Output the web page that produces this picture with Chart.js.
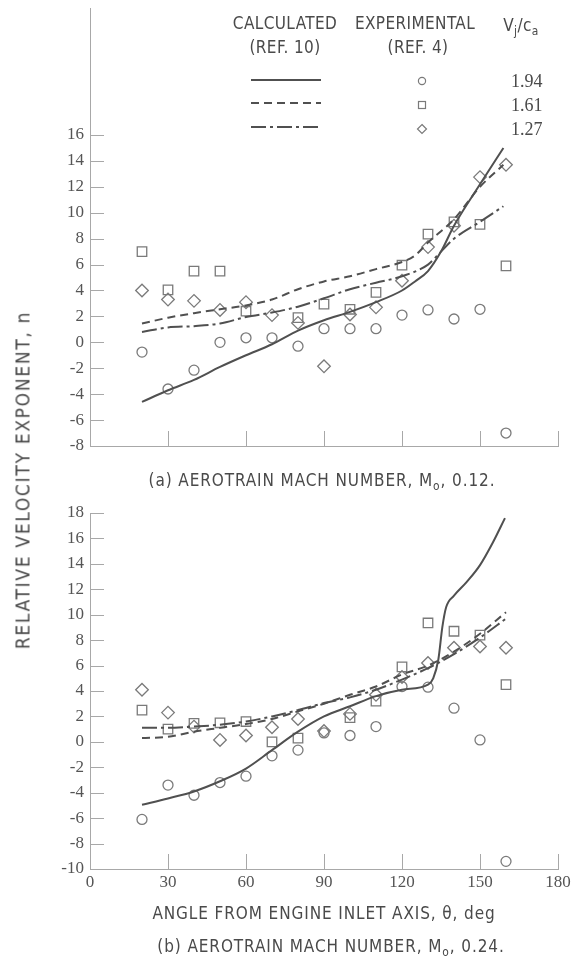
<!DOCTYPE html>
<html>
<head>
<meta charset="utf-8">
<script src="https://cdn.jsdelivr.net/npm/chart.js@4.4.1/dist/chart.umd.min.js"></script>
<style>
  html, body { margin: 0; padding: 0; background: #fff; }
  #page { position: relative; width: 574px; height: 970px; overflow: hidden; }
  #page canvas { position: absolute; left: 0; }
  .t { position: absolute; white-space: nowrap; color: #4a4a4a;
       font-family: "Liberation Sans Narrow", "DejaVu Sans Condensed", "Liberation Sans", sans-serif;
       font-size: 17px; line-height: 1; letter-spacing: 0.4px; transform: translate(-50%, -50%); }
  .num { font-family: "Liberation Serif", serif; font-size: 18px; letter-spacing: 0; transform: translate(0, -50%); }
  .cap { letter-spacing: 0.9px; }
  .ytitle { font-size: 19px; letter-spacing: 1.7px; transform: translate(-50%, -50%) rotate(-90deg); }
  sub { font-size: 70%; vertical-align: -0.35em; line-height: 0; }
</style>
</head>
<body>
<div id="page">
  <canvas id="chartTop" width="574" height="460" style="top:0"></canvas>
  <canvas id="chartBottom" width="574" height="480" style="top:490px"></canvas>

  <div class="t" style="left:285px;top:23px">CALCULATED</div>
  <div class="t" style="left:285px;top:47px">(REF. 10)</div>
  <div class="t" style="left:415px;top:23px">EXPERIMENTAL</div>
  <div class="t" style="left:418px;top:47px">(REF. 4)</div>
  <div class="t" style="left:521px;top:25px">V<sub>j</sub>/c<sub>a</sub></div>
  <div class="t num" style="left:511px;top:81px">1.94</div>
  <div class="t num" style="left:511px;top:105px">1.61</div>
  <div class="t num" style="left:511px;top:129px">1.27</div>

  <div class="t cap" style="left:322px;top:480px">(a) AEROTRAIN MACH NUMBER, M<sub>o</sub>, 0.12.</div>
  <div class="t cap" style="left:324px;top:913px">ANGLE FROM ENGINE INLET AXIS, &theta;, deg</div>
  <div class="t cap" style="left:331px;top:946px">(b) AEROTRAIN MACH NUMBER, M<sub>o</sub>, 0.24.</div>
  <div class="t ytitle" style="left:23px;top:480px">RELATIVE VELOCITY EXPONENT, n</div>
</div>

<script>
// angles of the measured points, deg
var expAngles = [20, 30, 40, 50, 60, 70, 80, 90, 100, 110, 120, 130, 140, 150, 160];

// (a) Mo = 0.12, experimental (ref. 4)
var aExp194 = [-0.75, -3.6, -2.15, 0.0, 0.35, 0.35, -0.3, 1.05, 1.05, 1.05, 2.1, 2.5, 1.8, 2.55, -7.0];
var aExp161 = [7.0, 4.05, 5.5, 5.5, 2.4, null, 1.9, 2.95, 2.55, 3.85, 5.95, 8.35, 9.3, 9.1, 5.9];
var aExp127 = [4.0, 3.3, 3.2, 2.5, 3.1, 2.1, 1.5, -1.85, 2.15, 2.7, 4.75, 7.35, 9.0, 12.75, 13.7];

// (a) calculated (ref. 10)
var aCalc194X = [20, 30, 40, 50, 60, 70, 80, 90, 100, 110, 120, 125, 130, 135, 140, 150, 159];
var aCalc194 = [-4.6, -3.7, -2.9, -1.9, -1.0, -0.15, 0.9, 1.7, 2.35, 3.1, 4.0, 4.7, 5.5, 7.0, 9.0, 12.2, 15.0];
var aCalc161X = [20, 30, 40, 50, 60, 70, 80, 90, 100, 110, 120, 125, 130, 140, 150, 159];
var aCalc161 = [1.45, 1.9, 2.25, 2.55, 2.85, 3.3, 4.1, 4.7, 5.1, 5.65, 6.2, 6.7, 7.7, 9.5, 12.0, 13.7];
var aCalc127X = [20, 30, 40, 50, 60, 70, 80, 90, 100, 110, 120, 130, 135, 140, 150, 159];
var aCalc127 = [0.8, 1.15, 1.25, 1.45, 1.95, 2.3, 2.75, 3.4, 4.1, 4.6, 5.1, 6.0, 7.0, 8.0, 9.3, 10.5];

// (b) Mo = 0.24, experimental (ref. 4)
var bExp194 = [-6.1, -3.4, -4.2, -3.2, -2.7, -1.1, -0.65, 0.7, 0.5, 1.2, 4.35, 4.3, 2.65, 0.15, -9.4];
var bExp161 = [2.5, 1.0, 1.45, 1.5, 1.6, 0.0, 0.3, null, 1.9, 3.2, 5.9, 9.35, 8.7, 8.4, 4.5];
var bExp127 = [4.1, 2.3, 1.2, 0.15, 0.5, 1.15, 1.8, 0.85, 2.2, 3.7, 5.1, 6.2, 7.4, 7.5, 7.4];

// (b) calculated (ref. 10)
var bCalc194X = [20, 30, 40, 50, 60, 70, 80, 90, 100, 110, 120, 130, 132, 134, 135.5, 137, 140, 145, 150, 155, 159.6];
var bCalc194 = [-4.95, -4.45, -3.9, -3.1, -2.1, -0.65, 0.8, 2.0, 2.8, 3.6, 4.1, 4.5, 5.0, 6.5, 9.0, 10.6, 11.5, 12.6, 13.9, 15.7, 17.6];
var bCalc161X = [20, 30, 40, 50, 60, 70, 80, 90, 100, 110, 120, 130, 140, 150, 160];
var bCalc161 = [0.3, 0.4, 0.8, 1.1, 1.4, 1.8, 2.4, 3.0, 3.7, 4.35, 5.3, 6.0, 7.1, 8.5, 10.2];
var bCalc127X = [20, 30, 40, 50, 60, 70, 80, 90, 100, 110, 120, 130, 140, 150, 160];
var bCalc127 = [1.1, 1.1, 1.2, 1.35, 1.6, 2.0, 2.5, 3.05, 3.5, 4.1, 4.9, 5.8, 6.9, 8.2, 9.7];

// axis ticks
var xTicks = [0, 30, 60, 90, 120, 150, 180];
var aYTicks = [-8, -6, -4, -2, 0, 2, 4, 6, 8, 10, 12, 14, 16];
var bYTicks = [-10, -8, -6, -4, -2, 0, 2, 4, 6, 8, 10, 12, 14, 16, 18];

var lineColor = '#505050';
var markColor = '#7a7a7a';
var axisColor = '#a8a8a8';

function pts(xs, ys) {
    return xs.map(function (x, i) { return { x: x, y: ys[i] }; })
             .filter(function (p) { return p.y !== null; });
}

function curve(xs, ys, dash) {
    return {
        data: pts(xs, ys),
        showLine: true,
        pointRadius: 0,
        borderColor: lineColor,
        borderWidth: 2,
        borderDash: dash,
        cubicInterpolationMode: 'monotone',
        fill: false
    };
}

function marks(ys, style, r) {
    return {
        data: pts(expAngles, ys),
        showLine: false,
        pointStyle: style,
        pointRadius: r,
        pointBorderColor: markColor,
        pointBackgroundColor: 'rgba(0,0,0,0)',
        pointBorderWidth: 1.3
    };
}

// tick marks drawn inside the plot, like the original
var innerTicks = {
    id: 'innerTicks',
    afterDraw: function (chart, args, opts) {
        var ctx = chart.ctx, a = chart.chartArea;
        var xs = chart.scales.x, ys = chart.scales.y;
        ctx.save();
        ctx.strokeStyle = axisColor;
        ctx.lineWidth = 1;
        ctx.beginPath();
        opts.yTicks.forEach(function (v) {
            if (v === opts.yTicks[0]) return;
            var py = Math.round(ys.getPixelForValue(v)) + 0.5;
            ctx.moveTo(a.left, py); ctx.lineTo(a.left + 14, py);
        });
        xTicks.forEach(function (v) {
            if (v === 0) return;
            var px = Math.round(xs.getPixelForValue(v)) + 0.5;
            ctx.moveTo(px, a.bottom); ctx.lineTo(px, a.bottom - 15);
        });
        ctx.stroke();
        ctx.restore();
    }
};

// line / symbol key of the upper panel
var keyPlugin = {
    id: 'keyPlugin',
    afterDraw: function (chart) {
        var ctx = chart.ctx;
        var ds = chart.data.datasets;
        var lineY = [80, 103, 127];
        var markY = [81, 105, 129];
        ctx.save();
        for (var i = 0; i < 3; i++) {
            ctx.strokeStyle = lineColor;
            ctx.lineWidth = 2;
            ctx.setLineDash(ds[i].borderDash);
            ctx.beginPath();
            ctx.moveTo(251, lineY[i]);
            ctx.lineTo(321, lineY[i]);
            ctx.stroke();
        }
        ctx.setLineDash([]);
        ctx.strokeStyle = markColor;
        ctx.lineWidth = 1.2;
        var x = 422;
        ctx.beginPath(); ctx.arc(x, markY[0], 3.6, 0, Math.PI * 2); ctx.stroke();
        ctx.strokeRect(x - 3.5, markY[1] - 3.5, 7, 7);
        ctx.beginPath();
        ctx.moveTo(x, markY[2] - 4.5); ctx.lineTo(x + 4.5, markY[2]);
        ctx.lineTo(x, markY[2] + 4.5); ctx.lineTo(x - 4.5, markY[2]);
        ctx.closePath(); ctx.stroke();
        ctx.restore();
    }
};

Chart.defaults.font.family = '"Liberation Serif", serif';
Chart.defaults.font.size = 17;
Chart.defaults.color = '#555';

function panelOptions(yMin, yMax, yLabelMax, showX, padding, yTicks) {
    return {
        responsive: false,
        animation: false,
        layout: { padding: padding },
        plugins: {
            legend: { display: false },
            tooltip: { enabled: false },
            innerTicks: { yTicks: yTicks }
        },
        scales: {
            x: {
                type: 'linear',
                min: 0, max: 180,
                grid: { display: false, drawTicks: false },
                border: { display: true, color: axisColor, width: 1 },
                ticks: {
                    display: showX,
                    stepSize: 30,
                    padding: 3,
                    color: '#555'
                },
                afterFit: function (s) { s.height = showX ? 30 : 0; }
            },
            y: {
                type: 'linear',
                min: yMin, max: yMax,
                grid: { display: false, drawTicks: false },
                border: { display: true, color: axisColor, width: 1 },
                ticks: {
                    stepSize: 2,
                    padding: 6,
                    color: '#555',
                    callback: function (v) { return (v <= yLabelMax && v % 2 === 0) ? String(v) : ''; }
                },
                afterFit: function (s) { s.width = 90; s.paddingTop = 0; s.paddingBottom = 0; }
            }
        }
    };
}

document.addEventListener('DOMContentLoaded', function () {
    var ctxTop = document.getElementById('chartTop').getContext('2d');
    var chartTop = new Chart(ctxTop, {
        type: 'scatter',
        data: {
            datasets: [
                curve(aCalc194X, aCalc194, []),
                curve(aCalc161X, aCalc161, [8, 5]),
                curve(aCalc127X, aCalc127, [15, 4, 3, 4]),
                marks(aExp194, 'circle', 5),
                marks(aExp161, 'rect', 6.7),
                marks(aExp127, 'rectRot', 6.3)
            ]
        },
        options: panelOptions(-8, 25.8, 16, false, { left: 0, right: 16, top: 1, bottom: 14 }, aYTicks),
        plugins: [innerTicks, keyPlugin]
    });

    var ctxBottom = document.getElementById('chartBottom').getContext('2d');
    var chartBottom = new Chart(ctxBottom, {
        type: 'scatter',
        data: {
            datasets: [
                curve(bCalc194X, bCalc194, []),
                curve(bCalc161X, bCalc161, [8, 5]),
                curve(bCalc127X, bCalc127, [15, 4, 3, 4]),
                marks(bExp194, 'circle', 5),
                marks(bExp161, 'rect', 6.7),
                marks(bExp127, 'rectRot', 6.3)
            ]
        },
        options: panelOptions(-10, 18, 18, true, { left: 0, right: 16, top: 23, bottom: 71 }, bYTicks),
        plugins: [innerTicks]
    });
});
</script>
</body>
</html>
